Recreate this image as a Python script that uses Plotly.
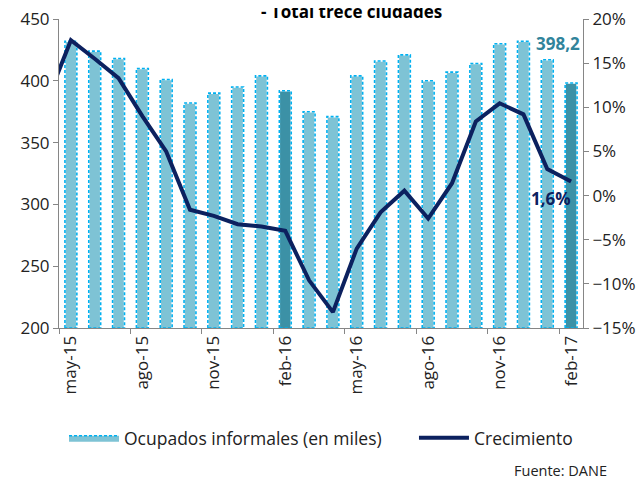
import plotly.graph_objects as go

# Months shown (may-15 .. feb-17)
meses = ['may-15', 'jun-15', 'jul-15', 'ago-15', 'sep-15', 'oct-15', 'nov-15', 'dic-15',
         'ene-16', 'feb-16', 'mar-16', 'abr-16', 'may-16', 'jun-16', 'jul-16', 'ago-16',
         'sep-16', 'oct-16', 'nov-16', 'dic-16', 'ene-17', 'feb-17']
# Informal employed, thousands
ocupados = [432, 424, 418, 410, 401, 382, 390, 395, 404, 392, 375, 371,
            404, 416, 421, 400, 407, 414, 430, 432, 417, 398.2]
# Annual growth, %; first value is abr-15 (outside the visible range)
crec_prev = 10.8
crecimiento = [17.6, 15.5, 13.3, 9.0, 5.0, -1.6, -2.3, -3.25, -3.5, -4.0, -9.6, -13.2,
               -6.0, -1.9, 0.55, -2.6, 1.4, 8.4, 10.45, 9.2, 3.0, 1.6]
destacados = ['feb-16', 'feb-17']

idx = list(range(len(meses)))
light = '#7EC3D5'
dark = '#3C91A6'
cyan = '#00B0F0'
navy = '#0C215F'
font = 'Open Sans'

colors = [dark if m in destacados else light for m in meses]

fig = go.Figure()
fig.add_trace(go.Bar(x=idx, y=ocupados, width=0.5, marker=dict(color=colors, line=dict(color='white', width=1.5)),
                     showlegend=False, yaxis='y'))

# dashed outline of each bar, built from the same values
w = 0.25
ox, oy = [], []
for i, v in zip(idx, ocupados):
    ox += [i - w, i - w, i + w, i + w, i - w, None]
    oy += [200, v, v, 200, 200, None]
fig.add_trace(go.Scatter(x=ox, y=oy, mode='lines', line=dict(color=cyan, width=1.6, dash='3px,2px'),
                         showlegend=False, hoverinfo='skip', yaxis='y'))
# legend entry for the bars (trailing nbsp widen the gap between entries)
fig.add_trace(go.Scatter(x=[None], y=[None], mode='lines', fill='toself', fillcolor=light,
                         line=dict(color=cyan, width=1.6, dash='3px,2px'),
                         name='Ocupados informales (en miles)' + '\u00a0' * 6, yaxis='y'))

fig.add_trace(go.Scatter(x=[-1] + idx, y=[crec_prev] + crecimiento, mode='lines',
                         line=dict(color=navy, width=4), name='Crecimiento', yaxis='y2'))

fig.add_annotation(x=idx[-1], y=ocupados[-1], xref='x', yref='y', text='<b>398,2</b>', showarrow=False,
                   xshift=-13, yshift=40, font=dict(family=font, size=17, color='#31849B'))
fig.add_annotation(x=idx[-1], y=crecimiento[-1], xref='x', yref='y2', text='<b>1,6%</b>', showarrow=False,
                   xshift=-20, yshift=-17, font=dict(family=font, size=17, color=navy))
fig.add_annotation(x=0.559, y=0.98, xref='paper', yref='paper', yanchor='bottom', showarrow=False,
                   text='<b>- Total trece ciudades</b>', font=dict(family=font, size=17, color='black'))
fig.add_annotation(x=1.05, y=-0.46, xref='paper', yref='paper', xanchor='right', yanchor='middle',
                   showarrow=False, text='Fuente: DANE', font=dict(family=font, size=14.5, color='#222'))

axis_col = '#868686'
fig.update_layout(
    width=644, height=482,
    margin=dict(l=51, r=69, t=11, b=162, autoexpand=False),
    paper_bgcolor='white', plot_bgcolor='white',
    font=dict(family=font, size=17, color='#222'),
    bargap=0.5,
    xaxis=dict(range=[-0.5, 21.5], tickmode='array', tickvals=idx[::3], ticktext=meses[::3],
               tickangle=-90, ticks='', showline=True, linecolor=axis_col, linewidth=1,
               showgrid=False, zeroline=False, automargin=False,
               minor=dict(tickmode='array', tickvals=[i - 0.5 for i in idx[::3]], ticks='outside',
                          ticklen=5, tickcolor=axis_col)),
    yaxis=dict(range=[200, 450], dtick=50, showline=True, linecolor=axis_col, ticks='outside',
               ticklen=5, tickcolor=axis_col, showgrid=False, zeroline=False, automargin=False,
               ticklabeloverflow='allow'),
    yaxis2=dict(range=[-15, 20], dtick=5, ticksuffix='%', overlaying='y', side='right', showline=True,
                linecolor=axis_col, ticks='outside', ticklen=5, tickcolor=axis_col, showgrid=False,
                zeroline=False, automargin=False, ticklabeloverflow='allow'),
    legend=dict(orientation='h', x=0.5, xanchor='center', yref='container', y=0.108, yanchor='middle',
                font=dict(size=17.5), itemwidth=50),
)

fig.write_html('out.html')
